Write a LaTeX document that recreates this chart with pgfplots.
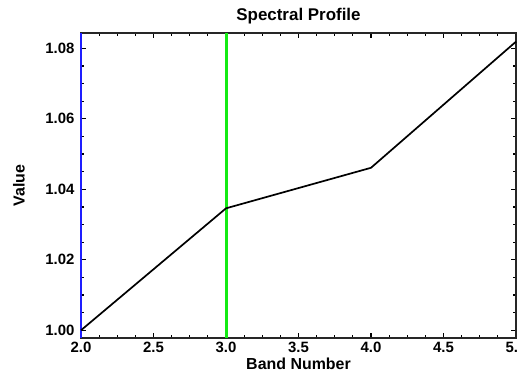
\documentclass[border=0pt]{standalone}
\usepackage{pgfplots}
\pgfplotsset{compat=1.18}
\usepackage{fontspec}
\setmainfont{Liberation Sans}
\begin{document}
\begin{tikzpicture}
\path[use as bounding box] (-81bp,-34bp) rectangle (437bp,338bp);
\begin{axis}[
  at={(0,0)}, anchor=south west,
  scale only axis, width=435bp, height=305bp,
  xmin=2, xmax=5, ymin=0.9978, ymax=1.08435,
  xtick={2,2.5,...,5}, ytick={1.00,1.02,1.04,1.06,1.08},
  minor tick num=3,
  tick align=inside,
  major tick length=5bp, minor tick length=3bp,
  every tick/.style={black, line width=1.2bp},
  axis line style={black!85, line width=1.4bp},
  clip=false,
  /pgf/number format/assume math mode=true,
  xticklabel style={/pgf/number format/fixed, /pgf/number format/fixed zerofill, /pgf/number format/precision=1, yshift=-1bp},
  yticklabel style={/pgf/number format/fixed, /pgf/number format/fixed zerofill, /pgf/number format/precision=2, xshift=-3bp},
  ticklabel style={font=\fontsize{15}{17}\selectfont\bfseries},
  title={Spectral Profile},
  title style={font=\fontsize{17}{19}\selectfont\bfseries, at={(axis description cs:0.5,1)}, anchor=south, inner sep=0pt, yshift=3bp},
  xlabel={Band Number},
  xlabel style={font=\fontsize{16}{18}\selectfont\bfseries, at={(axis description cs:0.5,0)}, anchor=north, inner sep=0pt, yshift=-20bp},
  ylabel={Value},
  ylabel style={font=\fontsize{16}{18}\selectfont\bfseries, at={(axis description cs:-0.1425,0.5)}, anchor=center, inner sep=0pt},
]
\addplot[color={rgb,255:red,20;green,235;blue,20}, line width=3bp] coordinates {(3,0.9978) (3,1.08435)};
\addplot[color={rgb,255:red,30;green,30;blue,255}, line width=2.5bp] coordinates {(2,0.9978) (2,1.08435)};
\addplot[black, line width=1.7bp, line join=round] coordinates {
  (2,1.0000) (3,1.0346) (4,1.0461) (5,1.0819)
};
\end{axis}
\end{tikzpicture}
\end{document}
